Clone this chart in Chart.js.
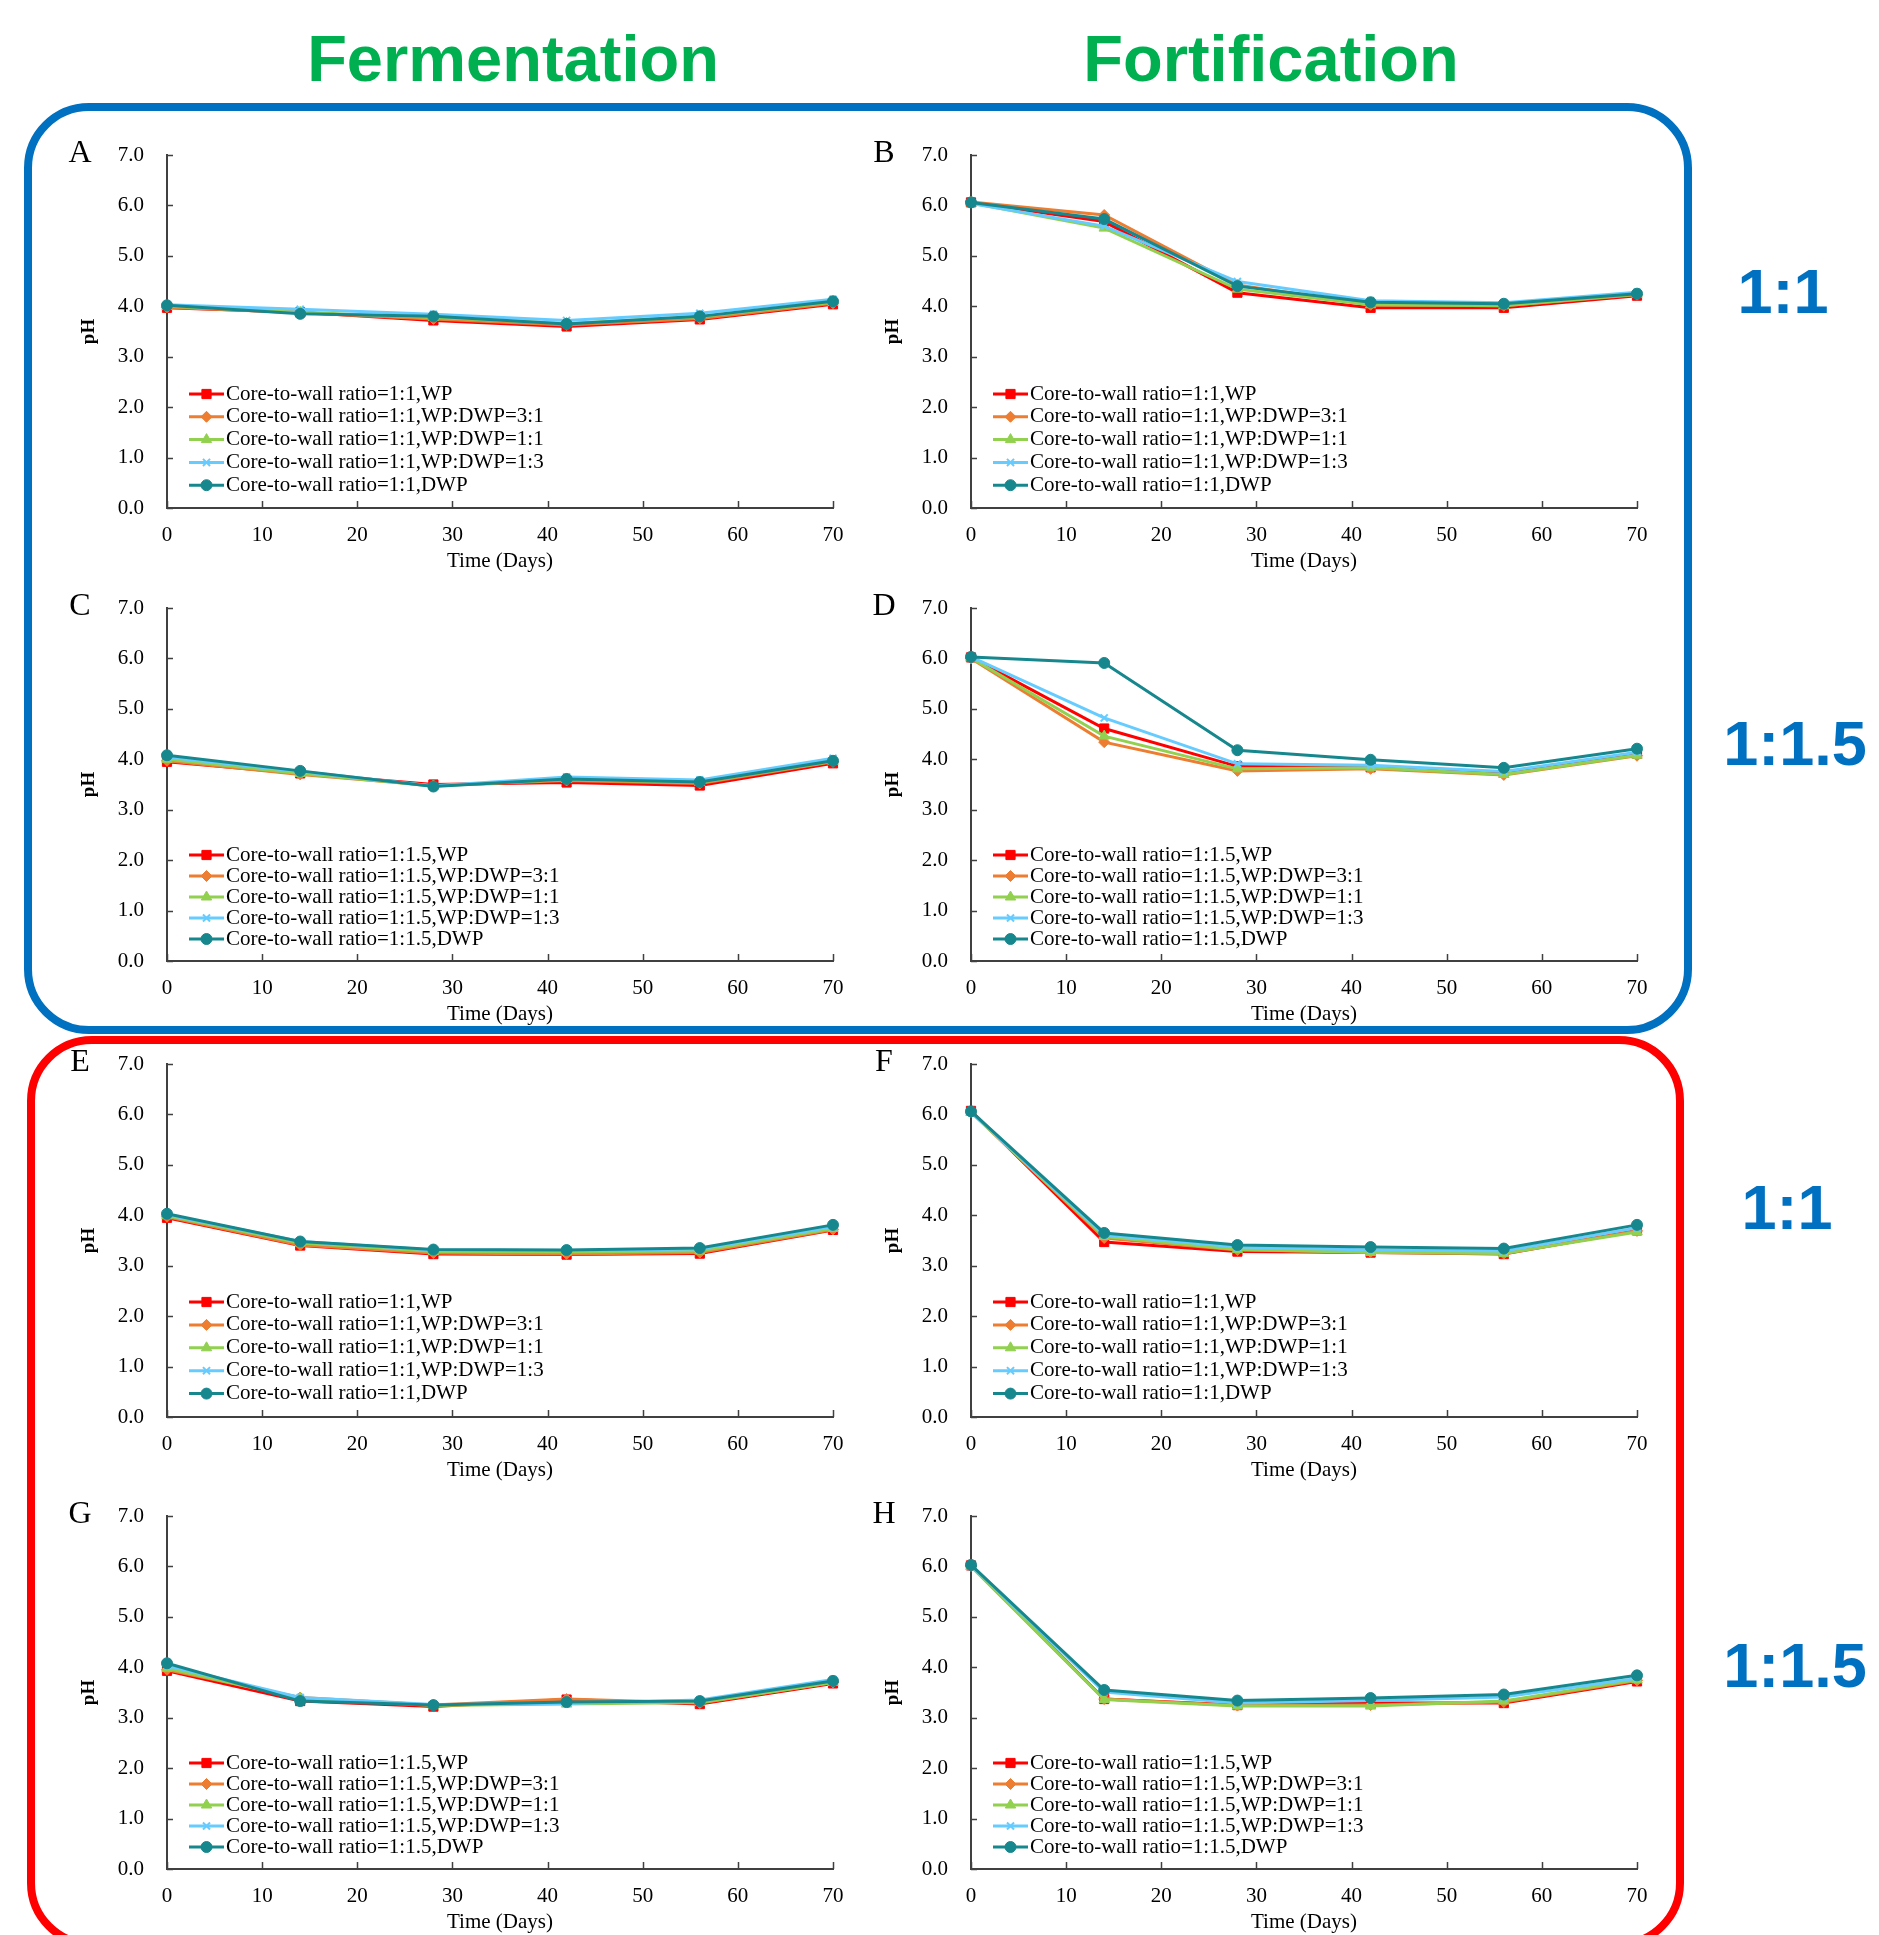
<!DOCTYPE html>
<html lang="en">
<head>
<meta charset="utf-8">
<title>pH during fermentation and fortification</title>
<script src="https://cdn.jsdelivr.net/npm/chart.js@4.4.1/dist/chart.umd.min.js"></script>
<style>
  html, body { margin: 0; padding: 0; background: #fff; }
  #page { position: relative; width: 1879px; height: 1935px; overflow: hidden; }
  .frame { position: absolute; box-sizing: border-box; border: 8px solid #0070C0; border-radius: 65px; }
  .head { position: absolute; width: 600px; text-align: center; font: bold 65px/65px "Liberation Sans", Arial, sans-serif; color: #00B050; }
  .ratio { position: absolute; width: 300px; text-align: center; font: bold 63px/63px "Liberation Sans", Arial, sans-serif; color: #0070C0; }
  .letter { position: absolute; width: 40px; text-align: center; font: 32px/32px "Liberation Serif", "Times New Roman", serif; color: #000; }
  canvas { position: absolute; }
</style>
</head>
<body>
<div id="page">
  <div class="frame" style="left:24px; top:103px; width:1668px; height:931px;"></div>
  <div class="frame" style="left:27px; top:1036px; width:1657px; height:912px; border-color:#FF0000;"></div>
  <div class="head" style="left:213px; top:26px;">Fermentation</div>
  <div class="head" style="left:971px; top:26px;">Fortification</div>
  <div class="ratio" style="left:1633px; top:260px;">1:1</div>
  <div class="ratio" style="left:1645px; top:712px;">1:1.5</div>
  <div class="ratio" style="left:1637px; top:1176px;">1:1</div>
  <div class="ratio" style="left:1645px; top:1634px;">1:1.5</div>
</div>
<script>
  // sampling days
  const days = [0, 14, 28, 42, 56, 70];

  // series order: WP, WP:DWP=3:1, WP:DWP=1:1, WP:DWP=1:3, DWP
  const namesR1 = ['Core-to-wall ratio=1:1,WP', 'Core-to-wall ratio=1:1,WP:DWP=3:1', 'Core-to-wall ratio=1:1,WP:DWP=1:1',
                   'Core-to-wall ratio=1:1,WP:DWP=1:3', 'Core-to-wall ratio=1:1,DWP'];
  const namesR15 = ['Core-to-wall ratio=1:1.5,WP', 'Core-to-wall ratio=1:1.5,WP:DWP=3:1', 'Core-to-wall ratio=1:1.5,WP:DWP=1:1',
                    'Core-to-wall ratio=1:1.5,WP:DWP=1:3', 'Core-to-wall ratio=1:1.5,DWP'];

  const colors = ['#FF0000', '#ED7D31', '#92D050', '#66CCFF', '#17878E'];
  const styles = ['rect', 'rectRot', 'triangle', 'crossRot', 'circle'];
  const radii = [6.5, 5.5, 6, 5, 5.5];

  // pH values per panel (rows = series above)
  const panelA = [
    [3.97, 3.88, 3.72, 3.60, 3.74, 4.04],
    [3.98, 3.87, 3.75, 3.63, 3.76, 4.06],
    [4.00, 3.88, 3.78, 3.66, 3.79, 4.08],
    [4.03, 3.94, 3.84, 3.72, 3.86, 4.14],
    [4.02, 3.85, 3.80, 3.65, 3.80, 4.10]
  ];
  const panelB = [
    [6.06, 5.68, 4.27, 3.97, 3.97, 4.21],
    [6.07, 5.81, 4.42, 4.03, 4.01, 4.23],
    [6.05, 5.55, 4.34, 4.03, 4.01, 4.24],
    [6.04, 5.59, 4.49, 4.11, 4.07, 4.28],
    [6.06, 5.73, 4.40, 4.08, 4.05, 4.25]
  ];
  const panelC = [
    [3.95, 3.72, 3.50, 3.54, 3.48, 3.92],
    [3.97, 3.70, 3.48, 3.58, 3.52, 3.95],
    [4.00, 3.72, 3.47, 3.60, 3.54, 3.96],
    [4.04, 3.76, 3.47, 3.65, 3.59, 4.02],
    [4.08, 3.77, 3.46, 3.61, 3.55, 3.97]
  ];
  const panelD = [
    [6.02, 4.61, 3.86, 3.84, 3.73, 4.11],
    [6.00, 4.34, 3.77, 3.81, 3.69, 4.07],
    [6.01, 4.46, 3.81, 3.83, 3.70, 4.08],
    [6.03, 4.82, 3.91, 3.88, 3.76, 4.14],
    [6.03, 5.91, 4.18, 3.99, 3.83, 4.21]
  ];
  const panelE = [
    [3.95, 3.40, 3.23, 3.22, 3.24, 3.71],
    [3.97, 3.41, 3.25, 3.23, 3.26, 3.72],
    [3.99, 3.45, 3.28, 3.27, 3.29, 3.74],
    [4.01, 3.48, 3.31, 3.30, 3.33, 3.77],
    [4.03, 3.48, 3.32, 3.31, 3.35, 3.81]
  ];
  const panelF = [
    [6.07, 3.47, 3.28, 3.26, 3.23, 3.70],
    [6.05, 3.55, 3.31, 3.27, 3.24, 3.69],
    [6.04, 3.58, 3.32, 3.26, 3.24, 3.67],
    [6.05, 3.61, 3.37, 3.31, 3.29, 3.75],
    [6.06, 3.65, 3.41, 3.37, 3.34, 3.81]
  ];
  const panelG = [
    [3.93, 3.33, 3.22, 3.36, 3.27, 3.68],
    [3.95, 3.40, 3.25, 3.37, 3.29, 3.70],
    [3.98, 3.38, 3.24, 3.27, 3.30, 3.70],
    [4.03, 3.40, 3.26, 3.28, 3.35, 3.76],
    [4.08, 3.33, 3.25, 3.31, 3.33, 3.73]
  ];
  const panelH = [
    [6.02, 3.37, 3.25, 3.29, 3.29, 3.72],
    [6.01, 3.37, 3.24, 3.25, 3.31, 3.74],
    [6.00, 3.36, 3.23, 3.23, 3.33, 3.75],
    [6.02, 3.51, 3.29, 3.34, 3.41, 3.78],
    [6.03, 3.55, 3.34, 3.39, 3.46, 3.84]
  ];

  const xTicks = [0, 10, 20, 30, 40, 50, 60, 70];
  const yTicks = [0, 1, 2, 3, 4, 5, 6, 7];

  const colLeft = [167, 971];
  const rowTop = [155, 608, 1064, 1516];
  const legendTop = [239, 247, 238, 247];
  const legendGap = [22.8, 21, 22.9, 21];
  const serif = '"Liberation Serif", "Times New Roman", serif';
  const page = document.getElementById('page');

  // small inward tick marks on both axes
  const innerTicks = {
    id: 'innerTicks',
    beforeDatasetsDraw(chart) {
      const ctx = chart.ctx, a = chart.chartArea;
      const xs = chart.scales.x, ys = chart.scales.y;
      ctx.save();
      ctx.strokeStyle = '#404040';
      ctx.lineWidth = 1.5;
      ctx.beginPath();
      xTicks.forEach(v => {
        const px = Math.round(xs.getPixelForValue(v)) + 0.5;
        ctx.moveTo(px, a.bottom); ctx.lineTo(px, a.bottom - 7);
      });
      yTicks.forEach(v => {
        const py = Math.round(ys.getPixelForValue(v)) + 0.5;
        ctx.moveTo(a.left, py); ctx.lineTo(a.left + 6, py);
      });
      ctx.stroke();
      ctx.restore();
    }
  };

  // legend drawn inside the plot, like the original
  function insideLegend(top, gap) {
    return {
      id: 'insideLegend',
      afterDraw(chart) {
        const ctx = chart.ctx, a = chart.chartArea;
        ctx.save();
        ctx.font = '21px ' + serif;
        ctx.textBaseline = 'middle';
        chart.data.datasets.forEach((ds, i) => {
          const y = a.top + top + i * gap;
          const x1 = a.left + 22, x2 = a.left + 57;
          ctx.strokeStyle = ds.borderColor;
          ctx.fillStyle = ds.borderColor;
          ctx.lineWidth = 3;
          ctx.beginPath(); ctx.moveTo(x1, y); ctx.lineTo(x2, y); ctx.stroke();
          ctx.lineWidth = ds.pointBorderWidth;
          Chart.helpers.drawPoint(ctx, { pointStyle: ds.pointStyle, radius: ds.pointRadius, borderWidth: ds.pointBorderWidth, rotation: 0 }, (x1 + x2) / 2, y);
          ctx.fillStyle = '#000';
          ctx.fillText(ds.label, a.left + 59, y);
        });
        ctx.restore();
      }
    };
  }

  function makePanel(letter, values, names, col, row) {
    const cv = document.createElement('canvas');
    cv.width = 806; cv.height = 463;
    cv.style.left = (colLeft[col] - 110) + 'px';
    cv.style.top = (rowTop[row] - 40) + 'px';
    page.appendChild(cv);

    const lab = document.createElement('div');
    lab.className = 'letter';
    lab.textContent = letter;
    lab.style.left = (colLeft[col] - 87 - 20) + 'px';
    lab.style.top = (rowTop[row] - 20) + 'px';
    page.appendChild(lab);

    new Chart(cv, {
      type: 'line',
      data: {
        datasets: values.map((vals, i) => ({
          label: names[i],
          data: days.map((d, j) => ({ x: d, y: vals[j] })),
          borderColor: colors[i],
          backgroundColor: colors[i],
          borderWidth: 3,
          pointStyle: styles[i],
          pointRadius: radii[i],
          pointBorderWidth: i === 3 ? 2 : 1,
          pointBorderColor: colors[i],
          pointBackgroundColor: colors[i],
          tension: 0,
          clip: false,
          order: 4 - i
        }))
      },
      options: {
        responsive: false,
        animation: false,
        devicePixelRatio: 1,
        layout: { padding: { left: 0, right: 30, top: 40, bottom: 0 } },
        plugins: { legend: { display: false }, tooltip: { enabled: false } },
        scales: {
          x: {
            type: 'linear', min: 0, max: 70,
            afterBuildTicks: s => { s.ticks = xTicks.map(v => ({ value: v })); },
            ticks: { font: { family: serif, size: 21 }, color: '#000', padding: 15, maxRotation: 0, autoSkip: false },
            grid: { drawOnChartArea: false, drawTicks: false },
            border: { color: '#404040', width: 2 },
            title: { display: true, text: 'Time (Days)', font: { family: serif, size: 21 }, color: '#000', padding: { top: 4, bottom: 4 } },
            afterFit: s => { s.height = 70; }
          },
          y: {
            type: 'linear', min: 0, max: 7,
            afterBuildTicks: s => { s.ticks = yTicks.map(v => ({ value: v })); },
            ticks: { font: { family: serif, size: 21 }, color: '#000', padding: 23, callback: v => v.toFixed(1) },
            grid: { drawOnChartArea: false, drawTicks: false },
            border: { color: '#404040', width: 2 },
            title: { display: true, text: 'pH', font: { family: serif, size: 19, weight: 'bold' }, color: '#000', padding: { top: 21, bottom: 21 } },
            afterFit: s => { s.width = 110; }
          }
        }
      },
      plugins: [innerTicks, insideLegend(legendTop[row], legendGap[row])]
    });
  }

  makePanel('A', panelA, namesR1, 0, 0);
  makePanel('B', panelB, namesR1, 1, 0);
  makePanel('C', panelC, namesR15, 0, 1);
  makePanel('D', panelD, namesR15, 1, 1);
  makePanel('E', panelE, namesR1, 0, 2);
  makePanel('F', panelF, namesR1, 1, 2);
  makePanel('G', panelG, namesR15, 0, 3);
  makePanel('H', panelH, namesR15, 1, 3);
</script>
</body>
</html>
